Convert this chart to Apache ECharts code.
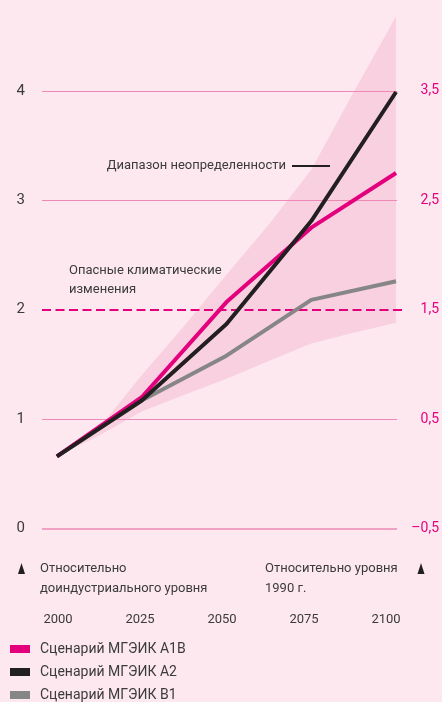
<!DOCTYPE html>
<html>
<head>
<meta charset="utf-8">
<script src="https://cdn.jsdelivr.net/npm/echarts@6/dist/echarts.min.js"></script>
<style>
  html, body { margin: 0; padding: 0; background: #fde8f0; }
  #chart { width: 442px; height: 702px; }
</style>
</head>
<body>
<div id="chart"></div>
<script>
// данные
var years = [2000, 2025, 2050, 2075, 2100];
var a1b = [0.66, 1.20, 2.07, 2.75, 3.25];
var a2 = [0.66, 1.17, 1.87, 2.81, 3.99];
var b1 = [0.66, 1.17, 1.58, 2.09, 2.26];

var bandYears = [2000, 2012.5, 2025, 2037.5, 2050, 2062.5, 2075, 2087.5, 2100];
var bandHigh = [0.66, 0.92, 1.40, 1.85, 2.32, 2.78, 3.28, 3.99, 4.68];
var bandLow = [0.66, 0.85, 1.07, 1.22, 1.37, 1.53, 1.69, 1.79, 1.88];

var gridValues = [0, 1, 2, 3, 4];
var dangerLevel = 2;
var leftTicks = ['0', '1', '2', '3', '4'];
var rightTicks = ['–0,5', '0,5', '1,5', '2,5', '3,5'];
var xTicks = [2000, 2025, 2050, 2075, 2100];

var names = ['Сценарий МГЭИК А1В', 'Сценарий МГЭИК А2', 'Сценарий МГЭИК В1'];

var font = "Roboto, 'Liberation Sans', sans-serif";
var textColor = '#3b3b3b';
var pink = '#e4007c';

var xMin = 1995.6, xMax = 2102.64, gridEnd = 2100.3;

function pairs(xs, ys) {
    return xs.map(function (x, i) { return [x, ys[i]]; });
}

var myChart = echarts.init(document.getElementById('chart'));

var option = {
    backgroundColor: '#fde8f0',
    animation: false,
    textStyle: { fontFamily: font },
    grid: [
        { left: 42, right: 35, top: 3.4, bottom: 173.5 },
        { left: 58, right: 56, top: 605, height: 1 }
    ],
    xAxis: [
        { type: 'value', gridIndex: 0, min: xMin, max: xMax, show: false },
        {
            type: 'value', gridIndex: 1, min: 2000, max: 2100, interval: 25,
            axisLine: { show: false }, axisTick: { show: false }, splitLine: { show: false },
            axisLabel: {
                margin: 7, fontSize: 13, color: textColor, fontFamily: font,
                formatter: function (v, i) { return xTicks[i] != null ? String(xTicks[i]) : ''; }
            }
        }
    ],
    yAxis: [
        {
            type: 'value', gridIndex: 0, min: 0, max: 4.8, interval: 1,
            axisLine: { show: false }, axisTick: { show: false }, splitLine: { show: false },
            axisLabel: {
                margin: 17, fontSize: 15, color: textColor, fontFamily: font, showMaxLabel: false,
                formatter: function (v, i) { return leftTicks[i] != null ? leftTicks[i] : ''; }
            }
        },
        {
            type: 'value', gridIndex: 0, position: 'right', min: -0.5, max: 4.3, interval: 1,
            axisLine: { show: false }, axisTick: { show: false }, splitLine: { show: false },
            axisLabel: {
                margin: 34, align: 'right', fontSize: 14, color: pink, fontFamily: font, showMaxLabel: false,
                formatter: function (v, i) { return rightTicks[i] != null ? rightTicks[i] : ''; }
            }
        },
        { type: 'value', gridIndex: 1, show: false }
    ],
    legend: {
        orient: 'vertical',
        left: 5,
        top: 637,
        height: 70,
        itemWidth: 20,
        itemHeight: 8,
        itemGap: 9,
        icon: 'rect',
        data: names,
        textStyle: { fontSize: 14, color: textColor, fontFamily: font, padding: [0, 0, 0, 5] }
    },
    series: [
        {
            name: 'Диапазон неопределенности',
            type: 'custom',
            z: 1,
            silent: true,
            data: bandYears.map(function (y, i) { return [y, bandLow[i], bandHigh[i]]; }),
            renderItem: function (params, api) {
                if (params.dataIndex !== 0) return;
                var pts = [];
                for (var i = 0; i < bandYears.length; i++) pts.push(api.coord([bandYears[i], bandHigh[i]]));
                for (var j = bandYears.length - 1; j >= 0; j--) pts.push(api.coord([bandYears[j], bandLow[j]]));
                return {
                    type: 'polygon',
                    shape: { points: pts, smooth: 0 },
                    style: { fill: '#f8d0e0' }
                };
            }
        },
        {
            name: 'сетка',
            type: 'line',
            z: 2,
            data: [],
            silent: true,
            markLine: {
                silent: true,
                symbol: 'none',
                z: 2,
                label: { show: false },
                data: gridValues.filter(function (v) { return v !== dangerLevel; }).map(function (v) {
                    return [
                        { coord: [xMin, v], lineStyle: { color: '#ee89b6', width: v === 0 ? 1.6 : 1, type: 'solid' } },
                        { coord: [gridEnd, v] }
                    ];
                }).concat([[
                    { coord: [xMin, dangerLevel], lineStyle: { color: pink, width: 2, type: [9, 4.5] } },
                    { coord: [xMax, dangerLevel] }
                ]])
            }
        },
        {
            name: names[2], type: 'line', z: 3, data: pairs(years, b1), symbol: 'none',
            itemStyle: { color: '#868686' }, lineStyle: { color: '#868686', width: 4, cap: 'butt' }
        },
        {
            name: names[0], type: 'line', z: 3, data: pairs(years, a1b), symbol: 'none',
            itemStyle: { color: pink }, lineStyle: { color: pink, width: 4, cap: 'butt' }
        },
        {
            name: names[1], type: 'line', z: 4, data: pairs(years, a2), symbol: 'none',
            itemStyle: { color: '#231f20' }, lineStyle: { color: '#231f20', width: 4, cap: 'butt' }
        }
    ],
    graphic: [
        {
            type: 'text', right: 442 - 286, top: 159, z: 100,
            style: { text: 'Диапазон неопределенности', font: '13px ' + font, fill: textColor, textAlign: 'right' }
        },
        {
            type: 'line', shape: { x1: 292, y1: 166, x2: 330, y2: 166 }, z: 100,
            style: { stroke: '#231f20', lineWidth: 2 }
        },
        {
            type: 'text', left: 69, top: 261, z: 100,
            style: { text: 'Опасные климатические\nизменения', font: '13px ' + font, lineHeight: 19, fill: textColor }
        },
        {
            type: 'polygon', z: 100,
            shape: { points: [[18, 574], [21.5, 563], [25, 574]] },
            style: { fill: '#231f20' }
        },
        {
            type: 'text', left: 40, top: 559, z: 100,
            style: { text: 'Относительно\nдоиндустриального уровня', font: '13px ' + font, lineHeight: 20, fill: textColor }
        },
        {
            type: 'text', left: 265, top: 559, z: 100,
            style: { text: 'Относительно уровня\n1990 г.', font: '13px ' + font, lineHeight: 20, fill: textColor }
        },
        {
            type: 'polygon', z: 100,
            shape: { points: [[417.5, 574], [421, 563], [424.5, 574]] },
            style: { fill: '#231f20' }
        }
    ]
};

myChart.setOption(option);
</script>
</body>
</html>
